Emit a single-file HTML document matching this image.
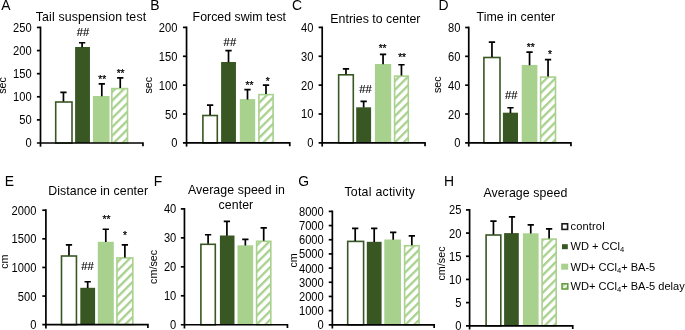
<!DOCTYPE html><html><head><meta charset="utf-8"><style>
html,body{margin:0;padding:0;background:#fff;}
svg{display:block;will-change:transform;font-family:"Liberation Sans",sans-serif;}
</style></head><body>
<svg width="685" height="330" viewBox="0 0 685 330">
<defs><pattern id="hatch" patternUnits="userSpaceOnUse" width="6.2" height="6.2" patternTransform="translate(0 0.8) rotate(45)"><rect x="0" y="0" width="6.2" height="6.2" fill="#fff"/><rect x="0" y="0" width="2.3" height="6.2" fill="#A9D18E"/></pattern>
<pattern id="hatchs" patternUnits="userSpaceOnUse" width="3" height="3" patternTransform="rotate(45)"><rect x="0" y="0" width="3" height="3" fill="#fff"/><rect x="0" y="0" width="1.3" height="3" fill="#A9D18E"/></pattern></defs>
<rect width="685" height="330" fill="#fff"/>
<text x="1.31" y="10" font-size="13.9" fill="#000">A</text>
<text x="91" y="21" font-size="12.35" letter-spacing="0.14" text-anchor="middle" fill="#000">Tail suspension test</text>
<text transform="translate(31.62 147.49) scale(1 1.08)" font-size="11.15" text-anchor="end" fill="#000">0</text>
<text transform="translate(31.62 124.38) scale(1 1.08)" font-size="11.15" text-anchor="end" fill="#000">50</text>
<text transform="translate(31.62 101.27) scale(1 1.08)" font-size="11.15" text-anchor="end" fill="#000">100</text>
<text transform="translate(31.62 78.16) scale(1 1.08)" font-size="11.15" text-anchor="end" fill="#000">150</text>
<text transform="translate(31.62 55.05) scale(1 1.08)" font-size="11.15" text-anchor="end" fill="#000">200</text>
<text transform="translate(31.62 31.94) scale(1 1.08)" font-size="11.15" text-anchor="end" fill="#000">250</text>
<text transform="translate(6.05 85.4) rotate(-90)" font-size="10.8" text-anchor="middle" fill="#000">sec</text>
<rect x="55.7" y="102" width="16.3" height="41" fill="#fff" stroke="#385723" stroke-width="1.6"/>
<path d="M63.45 101.5V92.45M60.3 92.45H66.6" stroke="#000" stroke-width="1.7" fill="none"/>
<rect x="75.1" y="47" width="14.85" height="96" fill="#385723"/>
<path d="M82.1 47.3V42.75M78.95 42.75H85.25" stroke="#000" stroke-width="1.7" fill="none"/>
<text transform="translate(83.03 36.21) scale(1 1.0)" font-size="11.3" text-anchor="middle" fill="#000" stroke="#000" stroke-width="0.12">##</text>
<rect x="92.9" y="96" width="16.6" height="47" fill="#A9D18E"/>
<path d="M101.8 96.3V83.95M98.65 83.95H104.95" stroke="#000" stroke-width="1.7" fill="none"/>
<text transform="translate(102.2 82.83) scale(1 1.0)" font-size="10.2" text-anchor="middle" fill="#000" stroke="#000" stroke-width="0.25">**</text>
<rect x="111.85" y="88.6" width="15.65" height="54.4" fill="url(#hatch)" stroke="#A9D18E" stroke-width="1.6"/>
<path d="M120.25 88.1V77.85M117.1 77.85H123.4" stroke="#000" stroke-width="1.7" fill="none"/>
<text transform="translate(120.6 77.13) scale(1 1.0)" font-size="10.2" text-anchor="middle" fill="#000" stroke="#000" stroke-width="0.25">**</text>
<path d="M40.5 26.6V146.7" stroke="#000" stroke-width="1.7" fill="none"/>
<path d="M36.9 143H142.95V146.3" stroke="#000" stroke-width="1.7" fill="none"/>
<path d="M36.9 119.89H40.5" stroke="#000" stroke-width="1.7" fill="none"/>
<path d="M36.9 96.78H40.5" stroke="#000" stroke-width="1.7" fill="none"/>
<path d="M36.9 73.67H40.5" stroke="#000" stroke-width="1.7" fill="none"/>
<path d="M36.9 50.56H40.5" stroke="#000" stroke-width="1.7" fill="none"/>
<path d="M36.9 27.45H40.5" stroke="#000" stroke-width="1.7" fill="none"/>
<text x="150.16" y="10" font-size="13.9" fill="#000">B</text>
<text x="239.33" y="21" font-size="12.35" letter-spacing="0.01" text-anchor="middle" fill="#000">Forced swim test</text>
<text transform="translate(177.37 147.39) scale(1 1.08)" font-size="11.15" text-anchor="end" fill="#000">0</text>
<text transform="translate(177.37 118.52) scale(1 1.08)" font-size="11.15" text-anchor="end" fill="#000">50</text>
<text transform="translate(177.37 89.64) scale(1 1.08)" font-size="11.15" text-anchor="end" fill="#000">100</text>
<text transform="translate(177.37 60.77) scale(1 1.08)" font-size="11.15" text-anchor="end" fill="#000">150</text>
<text transform="translate(177.37 31.89) scale(1 1.08)" font-size="11.15" text-anchor="end" fill="#000">200</text>
<text transform="translate(152.3 85.15) rotate(-90)" font-size="10.8" text-anchor="middle" fill="#000">sec</text>
<rect x="202.9" y="115.5" width="14.4" height="27.4" fill="#fff" stroke="#385723" stroke-width="1.6"/>
<path d="M210.1 115V105.15M206.95 105.15H213.25" stroke="#000" stroke-width="1.7" fill="none"/>
<rect x="221.1" y="62" width="14.85" height="80.9" fill="#385723"/>
<path d="M228.52 62.3V50.65M225.37 50.65H231.67" stroke="#000" stroke-width="1.7" fill="none"/>
<text transform="translate(229.9 45.96) scale(1 1.0)" font-size="11.3" text-anchor="middle" fill="#000" stroke="#000" stroke-width="0.12">##</text>
<rect x="239.8" y="99.1" width="15.4" height="43.8" fill="#A9D18E"/>
<path d="M247.5 99.4V89.55M244.35 89.55H250.65" stroke="#000" stroke-width="1.7" fill="none"/>
<text transform="translate(249.4 89.33) scale(1 1.0)" font-size="10.2" text-anchor="middle" fill="#000" stroke="#000" stroke-width="0.25">**</text>
<rect x="258.9" y="94.6" width="14.2" height="48.3" fill="url(#hatch)" stroke="#A9D18E" stroke-width="1.6"/>
<path d="M266 94.1V85.15M262.85 85.15H269.15" stroke="#000" stroke-width="1.7" fill="none"/>
<text transform="translate(267.7 84.93) scale(1 1.0)" font-size="10.2" text-anchor="middle" fill="#000" stroke="#000" stroke-width="0.25">*</text>
<path d="M186.55 26.55V146.6" stroke="#000" stroke-width="1.7" fill="none"/>
<path d="M182.95 142.9H289.75V146.2" stroke="#000" stroke-width="1.7" fill="none"/>
<path d="M182.95 114.03H186.55" stroke="#000" stroke-width="1.7" fill="none"/>
<path d="M182.95 85.15H186.55" stroke="#000" stroke-width="1.7" fill="none"/>
<path d="M182.95 56.28H186.55" stroke="#000" stroke-width="1.7" fill="none"/>
<path d="M182.95 27.4H186.55" stroke="#000" stroke-width="1.7" fill="none"/>
<text x="292.09" y="10" font-size="13.9" fill="#000">C</text>
<text x="375.4" y="22.9" font-size="12.35" letter-spacing="0.01" text-anchor="middle" fill="#000">Entries to center</text>
<text transform="translate(313.4 147.34) scale(1 1.08)" font-size="11.15" text-anchor="end" fill="#000">0</text>
<text transform="translate(313.4 118.48) scale(1 1.08)" font-size="11.15" text-anchor="end" fill="#000">10</text>
<text transform="translate(313.4 89.62) scale(1 1.08)" font-size="11.15" text-anchor="end" fill="#000">20</text>
<text transform="translate(313.4 60.75) scale(1 1.08)" font-size="11.15" text-anchor="end" fill="#000">30</text>
<text transform="translate(313.4 31.89) scale(1 1.08)" font-size="11.15" text-anchor="end" fill="#000">40</text>
<rect x="338.65" y="74.8" width="14.65" height="68.05" fill="#fff" stroke="#385723" stroke-width="1.6"/>
<path d="M345.98 74.3V68.85M342.83 68.85H349.12" stroke="#000" stroke-width="1.7" fill="none"/>
<rect x="356.2" y="107.3" width="14.9" height="35.55" fill="#385723"/>
<path d="M363.65 107.6V101.35M360.5 101.35H366.8" stroke="#000" stroke-width="1.7" fill="none"/>
<text transform="translate(365.6 93.06) scale(1 1.0)" font-size="11.3" text-anchor="middle" fill="#000" stroke="#000" stroke-width="0.12">##</text>
<rect x="374.9" y="64" width="16.3" height="78.85" fill="#A9D18E"/>
<path d="M383.05 64.3V54.35M379.9 54.35H386.2" stroke="#000" stroke-width="1.7" fill="none"/>
<text transform="translate(382.6 52.28) scale(1 1.0)" font-size="10.2" text-anchor="middle" fill="#000" stroke="#000" stroke-width="0.25">**</text>
<rect x="394.6" y="76.1" width="13.7" height="66.75" fill="url(#hatch)" stroke="#A9D18E" stroke-width="1.6"/>
<path d="M401.45 75.6V64.75M398.3 64.75H404.6" stroke="#000" stroke-width="1.7" fill="none"/>
<text transform="translate(402.1 61.08) scale(1 1.0)" font-size="10.2" text-anchor="middle" fill="#000" stroke="#000" stroke-width="0.25">**</text>
<path d="M322.2 26.55V146.55" stroke="#000" stroke-width="1.7" fill="none"/>
<path d="M318.6 142.85H425.05V146.15" stroke="#000" stroke-width="1.7" fill="none"/>
<path d="M318.6 113.99H322.2" stroke="#000" stroke-width="1.7" fill="none"/>
<path d="M318.6 85.12H322.2" stroke="#000" stroke-width="1.7" fill="none"/>
<path d="M318.6 56.26H322.2" stroke="#000" stroke-width="1.7" fill="none"/>
<path d="M318.6 27.4H322.2" stroke="#000" stroke-width="1.7" fill="none"/>
<text x="438.6" y="10" font-size="13.9" fill="#000">D</text>
<text x="515.89" y="21" font-size="12.35" letter-spacing="0.07" text-anchor="middle" fill="#000">Time in center</text>
<text transform="translate(460.4 147.34) scale(1 1.08)" font-size="11.15" text-anchor="end" fill="#000">0</text>
<text transform="translate(460.4 118.5) scale(1 1.08)" font-size="11.15" text-anchor="end" fill="#000">20</text>
<text transform="translate(460.4 89.67) scale(1 1.08)" font-size="11.15" text-anchor="end" fill="#000">40</text>
<text transform="translate(460.4 60.83) scale(1 1.08)" font-size="11.15" text-anchor="end" fill="#000">60</text>
<text transform="translate(460.4 31.99) scale(1 1.08)" font-size="11.15" text-anchor="end" fill="#000">80</text>
<text transform="translate(441.1 84.7) rotate(-90)" font-size="10.8" text-anchor="middle" fill="#000">sec</text>
<rect x="483.9" y="57.5" width="16.1" height="85.35" fill="#fff" stroke="#385723" stroke-width="1.6"/>
<path d="M491.95 57V42.05M488.8 42.05H495.1" stroke="#000" stroke-width="1.7" fill="none"/>
<rect x="502.9" y="112.7" width="15.1" height="30.15" fill="#385723"/>
<path d="M510.45 113V107.75M507.3 107.75H513.6" stroke="#000" stroke-width="1.7" fill="none"/>
<text transform="translate(511.3 99.16) scale(1 1.0)" font-size="11.3" text-anchor="middle" fill="#000" stroke="#000" stroke-width="0.12">##</text>
<rect x="521.7" y="65" width="15.7" height="77.85" fill="#A9D18E"/>
<path d="M529.55 65.3V52.15M526.4 52.15H532.7" stroke="#000" stroke-width="1.7" fill="none"/>
<text transform="translate(530.7 50.73) scale(1 1.0)" font-size="10.2" text-anchor="middle" fill="#000" stroke="#000" stroke-width="0.25">**</text>
<rect x="540.6" y="77.1" width="14.9" height="65.75" fill="url(#hatch)" stroke="#A9D18E" stroke-width="1.6"/>
<path d="M548.05 76.6V59.65M544.9 59.65H551.2" stroke="#000" stroke-width="1.7" fill="none"/>
<text transform="translate(550.1 58.13) scale(1 1.0)" font-size="10.2" text-anchor="middle" fill="#000" stroke="#000" stroke-width="0.25">*</text>
<path d="M468.75 26.65V146.55" stroke="#000" stroke-width="1.7" fill="none"/>
<path d="M465.15 142.85H570.95V146.15" stroke="#000" stroke-width="1.7" fill="none"/>
<path d="M465.15 114.01H468.75" stroke="#000" stroke-width="1.7" fill="none"/>
<path d="M465.15 85.17H468.75" stroke="#000" stroke-width="1.7" fill="none"/>
<path d="M465.15 56.34H468.75" stroke="#000" stroke-width="1.7" fill="none"/>
<path d="M465.15 27.5H468.75" stroke="#000" stroke-width="1.7" fill="none"/>
<text x="4.67" y="185.6" font-size="13.9" fill="#000">E</text>
<text x="98.27" y="195.2" font-size="12.35" letter-spacing="0.06" text-anchor="middle" fill="#000">Distance in center</text>
<text transform="translate(36.37 329.19) scale(1 1.08)" font-size="11.15" text-anchor="end" fill="#000">0</text>
<text transform="translate(36.37 300.57) scale(1 1.08)" font-size="11.15" text-anchor="end" fill="#000">500</text>
<text transform="translate(36.37 271.94) scale(1 1.08)" font-size="11.15" text-anchor="end" fill="#000">1000</text>
<text transform="translate(36.37 243.32) scale(1 1.08)" font-size="11.15" text-anchor="end" fill="#000">1500</text>
<text transform="translate(36.37 214.69) scale(1 1.08)" font-size="11.15" text-anchor="end" fill="#000">2000</text>
<text transform="translate(8 261.6) rotate(-90)" font-size="10.8" text-anchor="middle" fill="#000">cm</text>
<rect x="61.5" y="256" width="14.95" height="68.7" fill="#fff" stroke="#385723" stroke-width="1.6"/>
<path d="M68.97 255.5V244.95M65.82 244.95H72.12" stroke="#000" stroke-width="1.7" fill="none"/>
<rect x="80.3" y="287.8" width="14.8" height="36.9" fill="#385723"/>
<path d="M87.7 288.1V281.75M84.55 281.75H90.85" stroke="#000" stroke-width="1.7" fill="none"/>
<text transform="translate(87.5 269.56) scale(1 1.0)" font-size="11.3" text-anchor="middle" fill="#000" stroke="#000" stroke-width="0.12">##</text>
<rect x="97.8" y="241.8" width="16" height="82.9" fill="#A9D18E"/>
<path d="M105.8 242.1V229.25M102.65 229.25H108.95" stroke="#000" stroke-width="1.7" fill="none"/>
<text transform="translate(106.4 223.13) scale(1 1.0)" font-size="10.2" text-anchor="middle" fill="#000" stroke="#000" stroke-width="0.25">**</text>
<rect x="116.95" y="257.9" width="15.85" height="66.8" fill="url(#hatch)" stroke="#A9D18E" stroke-width="1.6"/>
<path d="M124.88 257.4V244.95M121.72 244.95H128.03" stroke="#000" stroke-width="1.7" fill="none"/>
<text transform="translate(125.1 238.73) scale(1 1.0)" font-size="10.2" text-anchor="middle" fill="#000" stroke="#000" stroke-width="0.25">*</text>
<path d="M45.9 209.35V328.4" stroke="#000" stroke-width="1.7" fill="none"/>
<path d="M42.3 324.7H147.9V328" stroke="#000" stroke-width="1.7" fill="none"/>
<path d="M42.3 296.07H45.9" stroke="#000" stroke-width="1.7" fill="none"/>
<path d="M42.3 267.45H45.9" stroke="#000" stroke-width="1.7" fill="none"/>
<path d="M42.3 238.82H45.9" stroke="#000" stroke-width="1.7" fill="none"/>
<path d="M42.3 210.2H45.9" stroke="#000" stroke-width="1.7" fill="none"/>
<text x="153.86" y="185.6" font-size="13.9" fill="#000">F</text>
<text x="236.47" y="194.4" font-size="12.35" letter-spacing="0.08" text-anchor="middle" fill="#000">Average speed in</text>
<text x="235.9" y="208.6" font-size="12.35" letter-spacing="0.07" text-anchor="middle" fill="#000">center</text>
<text transform="translate(176.32 329.24) scale(1 1.08)" font-size="11.15" text-anchor="end" fill="#000">0</text>
<text transform="translate(176.32 300.28) scale(1 1.08)" font-size="11.15" text-anchor="end" fill="#000">10</text>
<text transform="translate(176.32 271.32) scale(1 1.08)" font-size="11.15" text-anchor="end" fill="#000">20</text>
<text transform="translate(176.32 242.35) scale(1 1.08)" font-size="11.15" text-anchor="end" fill="#000">30</text>
<text transform="translate(176.32 213.39) scale(1 1.08)" font-size="11.15" text-anchor="end" fill="#000">40</text>
<text transform="translate(157.3 266.85) rotate(-90)" font-size="10.8" text-anchor="middle" fill="#000">cm/sec</text>
<rect x="200.9" y="244.3" width="14.4" height="80.45" fill="#fff" stroke="#385723" stroke-width="1.6"/>
<path d="M208.1 243.8V234.75M204.95 234.75H211.25" stroke="#000" stroke-width="1.7" fill="none"/>
<rect x="219.9" y="235.5" width="14.6" height="89.25" fill="#385723"/>
<path d="M226.9 235.8V221.35M223.75 221.35H230.05" stroke="#000" stroke-width="1.7" fill="none"/>
<rect x="237.5" y="245.3" width="15.7" height="79.45" fill="#A9D18E"/>
<path d="M245.35 245.6V239.35M242.2 239.35H248.5" stroke="#000" stroke-width="1.7" fill="none"/>
<rect x="256.6" y="241.3" width="14.2" height="83.45" fill="url(#hatch)" stroke="#A9D18E" stroke-width="1.6"/>
<path d="M263.7 240.8V227.95M260.55 227.95H266.85" stroke="#000" stroke-width="1.7" fill="none"/>
<path d="M184.45 208.05V328.45" stroke="#000" stroke-width="1.7" fill="none"/>
<path d="M180.85 324.75H287.45V328.05" stroke="#000" stroke-width="1.7" fill="none"/>
<path d="M180.85 295.79H184.45" stroke="#000" stroke-width="1.7" fill="none"/>
<path d="M180.85 266.82H184.45" stroke="#000" stroke-width="1.7" fill="none"/>
<path d="M180.85 237.86H184.45" stroke="#000" stroke-width="1.7" fill="none"/>
<path d="M180.85 208.9H184.45" stroke="#000" stroke-width="1.7" fill="none"/>
<text x="298.17" y="185.6" font-size="13.9" fill="#000">G</text>
<text x="379.75" y="195.7" font-size="12.35" letter-spacing="0.25" text-anchor="middle" fill="#000">Total activity</text>
<text transform="translate(323.77 329.29) scale(1 1.08)" font-size="11.15" text-anchor="end" fill="#000">0</text>
<text transform="translate(323.77 315.12) scale(1 1.08)" font-size="11.15" text-anchor="end" fill="#000">1000</text>
<text transform="translate(323.77 300.94) scale(1 1.08)" font-size="11.15" text-anchor="end" fill="#000">2000</text>
<text transform="translate(323.77 286.77) scale(1 1.08)" font-size="11.15" text-anchor="end" fill="#000">3000</text>
<text transform="translate(323.77 272.59) scale(1 1.08)" font-size="11.15" text-anchor="end" fill="#000">4000</text>
<text transform="translate(323.77 258.42) scale(1 1.08)" font-size="11.15" text-anchor="end" fill="#000">5000</text>
<text transform="translate(323.77 244.24) scale(1 1.08)" font-size="11.15" text-anchor="end" fill="#000">6000</text>
<text transform="translate(323.77 230.07) scale(1 1.08)" font-size="11.15" text-anchor="end" fill="#000">7000</text>
<text transform="translate(323.77 215.89) scale(1 1.08)" font-size="11.15" text-anchor="end" fill="#000">8000</text>
<text transform="translate(297 260.35) rotate(-90)" font-size="10.8" text-anchor="middle" fill="#000">cm</text>
<rect x="347.7" y="241.4" width="15.9" height="83.4" fill="#fff" stroke="#385723" stroke-width="1.6"/>
<path d="M355.2 240.9V228.45M352.05 228.45H358.35" stroke="#000" stroke-width="1.7" fill="none"/>
<rect x="366.8" y="241.8" width="14.8" height="83" fill="#385723"/>
<path d="M374.2 242.1V228.45M371.05 228.45H377.35" stroke="#000" stroke-width="1.7" fill="none"/>
<rect x="384.3" y="239.5" width="16.7" height="85.3" fill="#A9D18E"/>
<path d="M393.2 239.8V232.35M390.05 232.35H396.35" stroke="#000" stroke-width="1.7" fill="none"/>
<rect x="404.6" y="245.7" width="14.45" height="79.1" fill="url(#hatch)" stroke="#A9D18E" stroke-width="1.6"/>
<path d="M411.83 245.2V235.95M408.68 235.95H414.98" stroke="#000" stroke-width="1.7" fill="none"/>
<path d="M332.35 210.55V328.5" stroke="#000" stroke-width="1.7" fill="none"/>
<path d="M328.75 324.8H434.15V328.1" stroke="#000" stroke-width="1.7" fill="none"/>
<path d="M328.75 310.62H332.35" stroke="#000" stroke-width="1.7" fill="none"/>
<path d="M328.75 296.45H332.35" stroke="#000" stroke-width="1.7" fill="none"/>
<path d="M328.75 282.27H332.35" stroke="#000" stroke-width="1.7" fill="none"/>
<path d="M328.75 268.1H332.35" stroke="#000" stroke-width="1.7" fill="none"/>
<path d="M328.75 253.93H332.35" stroke="#000" stroke-width="1.7" fill="none"/>
<path d="M328.75 239.75H332.35" stroke="#000" stroke-width="1.7" fill="none"/>
<path d="M328.75 225.57H332.35" stroke="#000" stroke-width="1.7" fill="none"/>
<path d="M328.75 211.4H332.35" stroke="#000" stroke-width="1.7" fill="none"/>
<text x="444.08" y="185.6" font-size="13.9" fill="#000">H</text>
<text x="525.38" y="196.9" font-size="12.35" letter-spacing="0.09" text-anchor="middle" fill="#000">Average speed</text>
<text transform="translate(461.42 330.29) scale(1 1.08)" font-size="11.15" text-anchor="end" fill="#000">0</text>
<text transform="translate(461.42 307.11) scale(1 1.08)" font-size="11.15" text-anchor="end" fill="#000">5</text>
<text transform="translate(461.42 283.93) scale(1 1.08)" font-size="11.15" text-anchor="end" fill="#000">10</text>
<text transform="translate(461.42 260.75) scale(1 1.08)" font-size="11.15" text-anchor="end" fill="#000">15</text>
<text transform="translate(461.42 237.57) scale(1 1.08)" font-size="11.15" text-anchor="end" fill="#000">20</text>
<text transform="translate(461.42 214.39) scale(1 1.08)" font-size="11.15" text-anchor="end" fill="#000">25</text>
<text transform="translate(444.9 263.5) rotate(-90)" font-size="10.8" text-anchor="middle" fill="#000">cm/sec</text>
<rect x="486.1" y="235" width="14.7" height="90.8" fill="#fff" stroke="#385723" stroke-width="1.6"/>
<path d="M493.45 234.5V221.15M490.3 221.15H496.6" stroke="#000" stroke-width="1.7" fill="none"/>
<rect x="504.1" y="233.1" width="14.7" height="92.7" fill="#385723"/>
<path d="M512 233.4V216.85M508.85 216.85H515.15" stroke="#000" stroke-width="1.7" fill="none"/>
<rect x="522.9" y="233.3" width="15.7" height="92.5" fill="#A9D18E"/>
<path d="M530.75 233.6V224.85M527.6 224.85H533.9" stroke="#000" stroke-width="1.7" fill="none"/>
<rect x="542.1" y="239.1" width="14.1" height="86.7" fill="url(#hatch)" stroke="#A9D18E" stroke-width="1.6"/>
<path d="M549.1 238.6V228.95M545.95 228.95H552.25" stroke="#000" stroke-width="1.7" fill="none"/>
<path d="M469.6 209.05V329.5" stroke="#000" stroke-width="1.7" fill="none"/>
<path d="M466 325.8H572.75V329.1" stroke="#000" stroke-width="1.7" fill="none"/>
<path d="M466 302.62H469.6" stroke="#000" stroke-width="1.7" fill="none"/>
<path d="M466 279.44H469.6" stroke="#000" stroke-width="1.7" fill="none"/>
<path d="M466 256.26H469.6" stroke="#000" stroke-width="1.7" fill="none"/>
<path d="M466 233.08H469.6" stroke="#000" stroke-width="1.7" fill="none"/>
<path d="M466 209.9H469.6" stroke="#000" stroke-width="1.7" fill="none"/>
<rect x="562" y="223.8" width="5.6" height="5.6" fill="#fff" stroke="#1a1a1a" stroke-width="1.6"/>
<text x="570.6" y="230.3" font-size="11.05" letter-spacing="0.14" fill="#000">control</text>
<rect x="562" y="244.2" width="5.8" height="5" fill="#385723"/>
<text x="570.6" y="250" font-size="11.05" fill="#000">WD + CCl<tspan font-size="7.6" dy="2.2">4</tspan></text>
<rect x="561.2" y="263.7" width="7" height="6" fill="#A9D18E"/>
<text x="570.6" y="270.5" font-size="11.05" fill="#000">WD+ CCl<tspan font-size="7.6" dy="2.2">4</tspan><tspan dy="-2.2">+ BA-5</tspan></text>
<rect x="562" y="283.8" width="5.8" height="5.2" fill="url(#hatchs)" stroke="#5f9a3a" stroke-width="1.5"/>
<text x="570.6" y="290.2" font-size="11.05" fill="#000">WD+ CCl<tspan font-size="7.6" dy="2.2">4</tspan><tspan dy="-2.2">+ BA-5 delay</tspan></text>
</svg></body></html>
